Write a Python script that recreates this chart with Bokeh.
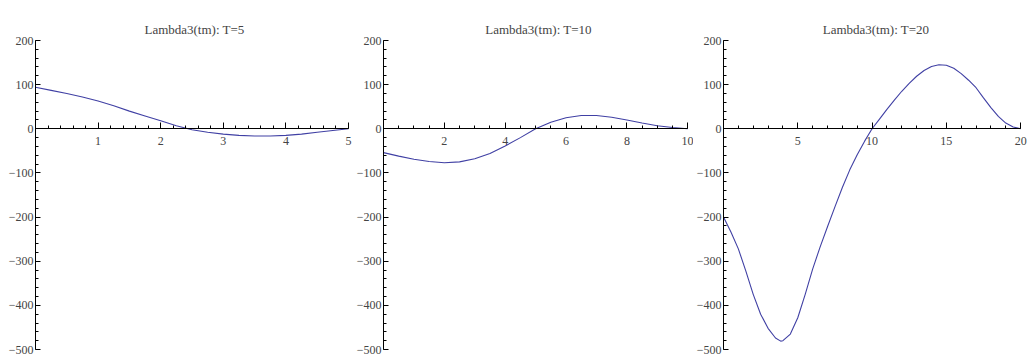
from bokeh.plotting import figure
from bokeh.layouts import row
from bokeh.models import Range1d, LinearAxis, FixedTicker
from bokeh.embed import file_html
from bokeh.resources import INLINE

# ---- data ----
titles = ["Lambda3(tm): T=5", "Lambda3(tm): T=10", "Lambda3(tm): T=20"]

t5_x = [0, 0.25, 0.5, 0.75, 1, 1.25, 1.5, 1.75, 2, 2.25, 2.5, 2.75, 3, 3.25,
        3.5, 3.75, 4, 4.25, 4.5, 4.75, 5]
t5_y = [94, 87, 80, 72, 63, 52, 40, 29, 18, 7, -2, -8, -12, -15,
        -16.5, -16.5, -15, -12, -8, -4, 0]

t10_x = [0, 0.5, 1, 1.5, 2, 2.5, 3, 3.5, 4, 4.5, 5, 5.5, 6, 6.5, 7, 7.5, 8,
         8.5, 9, 9.5, 10]
t10_y = [-54, -62, -69, -74, -77, -75, -68, -56, -39, -20, 0, 15, 25, 30, 30,
         26, 20, 13, 7, 3, 0]

t20_x = [0, 0.5, 1, 1.5, 2, 2.5, 3, 3.5, 3.85, 4, 4.5, 5, 5.5, 6, 6.5, 7, 7.5,
         8, 8.5, 9, 9.5, 10, 10.5, 11, 11.5, 12, 12.5, 13, 13.5, 14, 14.5,
         15, 15.5, 16, 16.5, 17, 17.5, 18, 18.5, 19, 19.5, 20]
t20_y = [-200, -234, -272, -322, -375, -420, -452, -474, -481, -480, -465,
         -428, -375, -318, -268, -222, -177, -133, -93, -59, -28, 0, 22, 44,
         65, 85, 103, 119, 132, 141, 145, 144, 137, 125, 110, 93, 70, 48, 28,
         13, 4, 0]

x_max = [5, 10, 20]
x_major = [[1, 2, 3, 4, 5], [2, 4, 6, 8, 10], [5, 10, 15, 20]]
x_minor_step = [0.2, 0.5, 1]
y_major = [200, 100, 0, -100, -200, -300, -400, -500]
y_labels = ["200", "100", "0", "\u2212100", "\u2212200", "\u2212300", "\u2212400", "\u2212500"]

series = [(t5_x, t5_y), (t10_x, t10_y), (t20_x, t20_y)]

FONT = "Liberation Serif"
LINE = "#4040a4"

# layout: figure widths, borders and a little room past the last x tick
widths = [353, 340, 335]
b_left = [35, 26, 26]
range_end = [5.08, 10.19, 20.53]

figs = []
for i in range(3):
    p = figure(width=widths[i], height=356, output_backend="svg",
               toolbar_location=None, x_axis_type=None, y_axis_type=None,
               x_range=Range1d(0, range_end[i]), y_range=Range1d(-500, 200),
               min_border_left=b_left[i], min_border_right=0,
               min_border_top=40, min_border_bottom=7,
               title=titles[i])
    p.outline_line_color = None
    p.grid.visible = False
    p.title.align = "center"
    p.title.text_font = FONT
    p.title.text_font_style = "normal"
    p.title.text_font_size = "13px"
    p.title.standoff = 8

    n_minor = int(round(x_max[i] / x_minor_step[i]))
    xminor = [k * x_minor_step[i] for k in range(n_minor + 1)]
    xa = LinearAxis(fixed_location=0, bounds=(0, x_max[i]),
                    ticker=FixedTicker(ticks=x_major[i], minor_ticks=xminor))
    xa.major_tick_in = 6
    xa.major_tick_out = 0
    xa.minor_tick_in = 3
    xa.minor_tick_out = 0
    xa.major_label_standoff = 8
    xa.major_label_text_font = FONT
    xa.major_label_text_font_size = "12px"
    xa.axis_line_color = "black"
    p.add_layout(xa, "below")

    yminor = list(range(-500, 201, 20))
    ya = LinearAxis(ticker=FixedTicker(ticks=y_major, minor_ticks=yminor))
    ya.major_label_overrides = {v: s for v, s in zip(y_major, y_labels)}
    ya.major_tick_in = 5
    ya.major_tick_out = 0
    ya.minor_tick_in = 3
    ya.minor_tick_out = 0
    ya.major_label_standoff = 2
    ya.major_label_text_font = FONT
    ya.major_label_text_font_size = "12px"
    p.add_layout(ya, "left")

    xs, ys = series[i]
    p.line(xs, ys, line_color=LINE, line_width=1.1)
    figs.append(p)

layout = row(*figs, spacing=0)
open("out.html", "w").write(file_html(layout, INLINE))
